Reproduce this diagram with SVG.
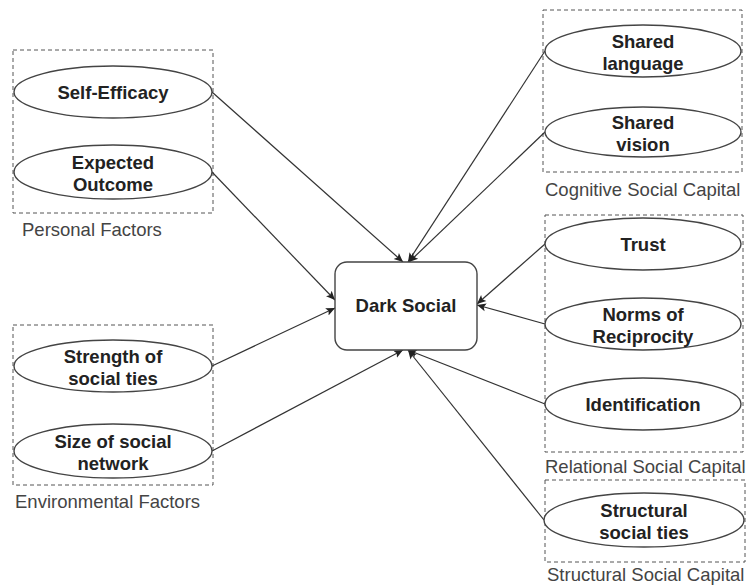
<svg xmlns="http://www.w3.org/2000/svg" width="753" height="586" viewBox="0 0 753 586">
<style>
.grp{fill:none;stroke:#555;stroke-width:1;stroke-dasharray:4 3}
.ell{fill:#fff;stroke:#444;stroke-width:1.4}
.nt{font-family:"Liberation Sans",Arial,sans-serif;font-weight:bold;font-size:18.5px;fill:#222;text-anchor:middle}
.gl{font-family:"Liberation Sans",Arial,sans-serif;font-size:18.5px;fill:#444}
.con{stroke:#333;stroke-width:1.2;fill:none;marker-end:url(#arr)}
</style>
<defs>
<marker id="arr" markerUnits="userSpaceOnUse" markerWidth="10" markerHeight="10" viewBox="0 0 10 10" refX="9" refY="5" orient="auto">
<path d="M0,1 L9,5 L0,9 L2,5 Z" fill="#222"/>
</marker>
</defs>
<rect width="753" height="586" fill="#fff"/>

<g id="groups">
<rect class="grp" x="13" y="50" width="200" height="163"/>
<text class="gl" x="22" y="236">Personal Factors</text>
<rect class="grp" x="13" y="325" width="200" height="160"/>
<text class="gl" x="15" y="508">Environmental Factors</text>
<rect class="grp" x="543" y="10" width="199" height="162"/>
<text class="gl" x="545" y="196">Cognitive Social Capital</text>
<rect class="grp" x="545" y="215" width="198" height="237"/>
<text class="gl" x="545" y="473">Relational Social Capital</text>
<rect class="grp" x="545" y="480" width="200" height="82"/>
<text class="gl" x="547" y="581">Structural Social Capital</text>
</g>

<g id="connectors">
<line class="con" x1="212" y1="92" x2="403" y2="262"/>
<line class="con" x1="212" y1="172" x2="335" y2="300"/>
<line class="con" x1="212" y1="366" x2="335" y2="308"/>
<line class="con" x1="212" y1="451" x2="403" y2="350"/>
<line class="con" x1="545" y1="51" x2="408" y2="262"/>
<line class="con" x1="545" y1="132" x2="409" y2="262"/>
<line class="con" x1="545" y1="244" x2="477" y2="304"/>
<line class="con" x1="545" y1="324" x2="477" y2="305"/>
<line class="con" x1="545" y1="404" x2="408" y2="350"/>
<line class="con" x1="544" y1="520" x2="408" y2="350"/>
</g>

<g id="dark-social">
<rect x="335" y="262" width="142" height="88" rx="12" ry="12" fill="#fff" stroke="#444" stroke-width="1.4"/>
<text class="nt" x="406" y="312">Dark Social</text>
</g>

<g id="self-efficacy">
<ellipse class="ell" cx="113" cy="92" rx="99" ry="26"/>
<text class="nt" x="113" y="99">Self-Efficacy</text>
</g>
<g id="expected-outcome">
<ellipse class="ell" cx="113" cy="172" rx="99" ry="27"/>
<text class="nt" x="113" y="169">Expected</text>
<text class="nt" x="113" y="191">Outcome</text>
</g>
<g id="strength-of-social-ties">
<ellipse class="ell" cx="113" cy="366" rx="99" ry="26"/>
<text class="nt" x="113" y="363">Strength of</text>
<text class="nt" x="113" y="385">social ties</text>
</g>
<g id="size-of-social-network">
<ellipse class="ell" cx="113" cy="451" rx="99" ry="27"/>
<text class="nt" x="113" y="448">Size of social</text>
<text class="nt" x="113" y="470">network</text>
</g>
<g id="shared-language">
<ellipse class="ell" cx="643" cy="51" rx="98" ry="26"/>
<text class="nt" x="643" y="48">Shared</text>
<text class="nt" x="643" y="70">language</text>
</g>
<g id="shared-vision">
<ellipse class="ell" cx="643" cy="132" rx="98" ry="25"/>
<text class="nt" x="643" y="129">Shared</text>
<text class="nt" x="643" y="151">vision</text>
</g>
<g id="trust">
<ellipse class="ell" cx="643" cy="244" rx="98" ry="26"/>
<text class="nt" x="643" y="251">Trust</text>
</g>
<g id="norms-of-reciprocity">
<ellipse class="ell" cx="643" cy="324" rx="98" ry="26"/>
<text class="nt" x="643" y="321">Norms of</text>
<text class="nt" x="643" y="343">Reciprocity</text>
</g>
<g id="identification">
<ellipse class="ell" cx="643" cy="404" rx="98" ry="26"/>
<text class="nt" x="643" y="411">Identification</text>
</g>
<g id="structural-social-ties">
<ellipse class="ell" cx="644" cy="520" rx="100" ry="27"/>
<text class="nt" x="644" y="517">Structural</text>
<text class="nt" x="644" y="539">social ties</text>
</g>
</svg>
